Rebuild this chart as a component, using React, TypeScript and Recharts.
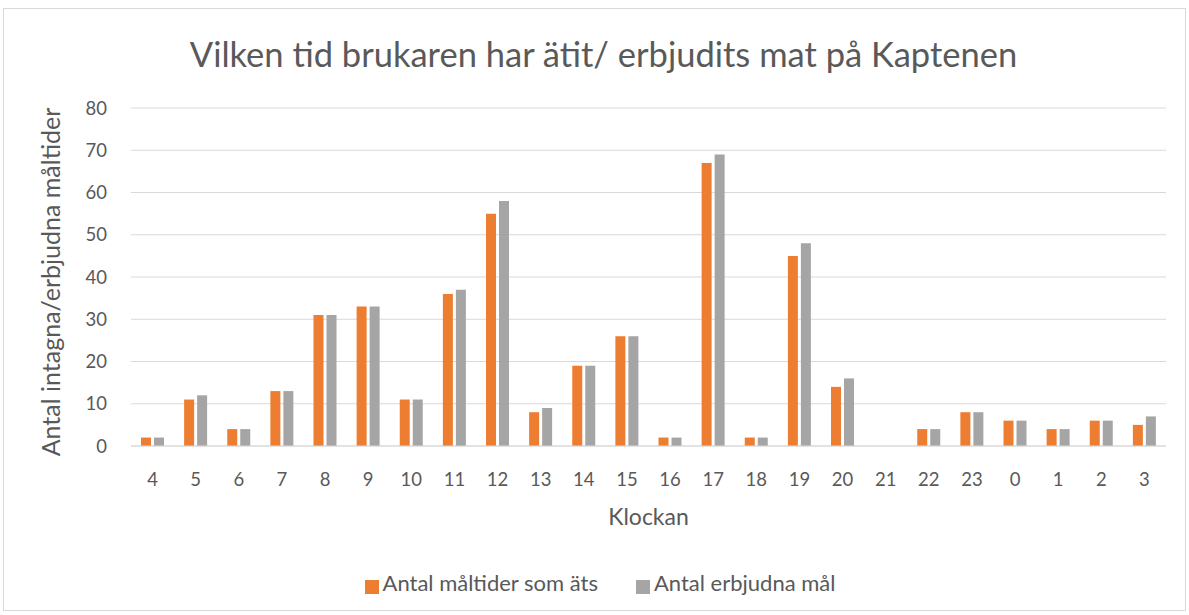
import { BarChart, Bar, XAxis, YAxis, CartesianGrid, Legend, Label } from 'recharts'

const hours = ['4', '5', '6', '7', '8', '9', '10', '11', '12', '13', '14', '15', '16', '17', '18', '19', '20', '21', '22', '23', '0', '1', '2', '3']
const eaten = [2, 11, 4, 13, 31, 33, 11, 36, 55, 8, 19, 26, 2, 67, 2, 45, 14, 0, 4, 8, 6, 4, 6, 5]
const offered = [2, 12, 4, 13, 31, 33, 11, 37, 58, 9, 19, 26, 2, 69, 2, 48, 16, 0, 4, 8, 6, 4, 6, 7]
const yTicks = [0, 10, 20, 30, 40, 50, 60, 70, 80]
const seriesNames = ['Antal måltider som äts', 'Antal erbjudna mål']

const data = hours.map((h, i) => ({
  hour: h,
  [seriesNames[0]]: eaten[i],
  [seriesNames[1]]: offered[i],
}))

const font = 'Lato, "Liberation Sans", sans-serif'
const textColor = '#595959'

export default function App() {
  return (
    <div
      style={{
        position: 'absolute',
        left: 3,
        top: 8,
        width: 1181,
        height: 601,
        border: '1px solid #d9d9d9',
        background: '#fff',
        fontFamily: font,
      }}
    >
      <div
        style={{
          position: 'absolute',
          top: 24,
          left: 0,
          width: '100%',
          textAlign: 'center',
          fontSize: 34.5,
          color: textColor,
          paddingLeft: 18,
          boxSizing: 'border-box',
          whiteSpace: 'nowrap',
        }}
      >
        Vilken tid brukaren har ätit/ erbjudits mat på Kaptenen
      </div>
      <BarChart
        width={1181}
        height={601}
        data={data}
        margin={{ top: 99, right: 19, left: 40, bottom: 14 }}
        barSize={10}
        barGap={3}
        style={{ fontFamily: font }}
      >
        <CartesianGrid vertical={false} stroke="#d9d9d9" strokeWidth={1} />
        <XAxis
          dataKey="hour"
          tickLine={false}
          axisLine={{ stroke: '#d9d9d9' }}
          tick={{ fill: textColor, fontSize: 18.5 }}
          tickMargin={21}
          height={123}
          interval={0}
        >
          <Label value="Klockan" position="insideTop" offset={63} style={{ fill: textColor, fontSize: 23 }} />
        </XAxis>
        <YAxis
          domain={[0, 80]}
          ticks={yTicks}
          tickLine={false}
          axisLine={false}
          tick={{ fill: textColor, fontSize: 18.5 }}
          tickMargin={18}
          width={87}
        >
          <Label
            value="Antal intagna/erbjudna måltider"
            angle={-90}
            position="insideLeft"
            offset={7}
            dy={5}
            style={{ fill: textColor, fontSize: 25, textAnchor: 'middle' }}
          />
        </YAxis>
        <Legend
          verticalAlign="bottom"
          iconType="square"
          iconSize={14}
          itemSorter={(item: any) => seriesNames.indexOf(item.value)}
          formatter={(v: string, _e: any, i: number) => (
            <span style={{ color: textColor, fontSize: 22, marginRight: i === 0 ? 28 : 0 }}>{v}</span>
          )}
        />
        <Bar dataKey={seriesNames[0]} fill="#ed7d31" isAnimationActive={false} />
        <Bar dataKey={seriesNames[1]} fill="#a5a5a5" isAnimationActive={false} />
      </BarChart>
    </div>
  )
}
